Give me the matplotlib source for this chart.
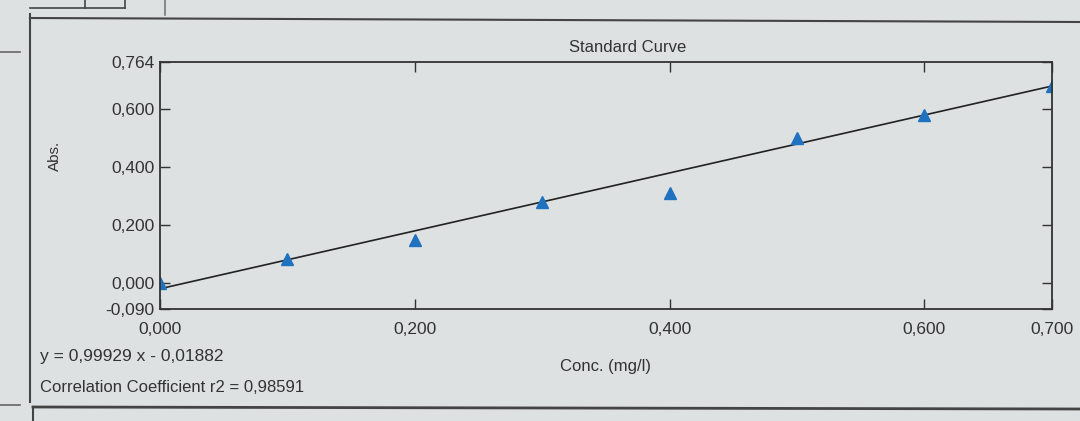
import numpy as np
import matplotlib.pyplot as plt
from matplotlib.lines import Line2D

# standard points
conc = [0.0, 0.1, 0.2, 0.3, 0.4, 0.5, 0.6, 0.7]
absorb = [0.0, 0.083, 0.15, 0.28, 0.31, 0.50, 0.58, 0.68]

# fit shown on the screen
slope = 0.99929
intercept = -0.01882
r2 = 0.98591

xticks = [0.0, 0.2, 0.4, 0.6, 0.7]
xticklabels = ['0,000', '0,200', '0,400', '0,600', '0,700']
yticks = [0.764, 0.6, 0.4, 0.2, 0.0, -0.09]
yticklabels = ['0,764', '0,600', '0,400', '0,200', '0,000', '-0,090']

plt.rcParams['font.family'] = ['Liberation Sans', 'DejaVu Sans']

bg = '#dde1e1'
fig = plt.figure(figsize=(10.8, 4.21), dpi=100, facecolor=bg)
ax = fig.add_axes([0.148, 0.265, 0.826, 0.588])
ax.set_facecolor(bg)

# fitted line
xs = np.array([0.0, 0.7])
ax.plot(xs, slope * xs + intercept, color='#222222', lw=1.2)
ax.plot(conc, absorb, linestyle='none', marker='^', markersize=8,
        color='#1f72c0')

ax.set_xlim(0, 0.7)
ax.set_ylim(-0.09, 0.764)
ax.set_xticks(xticks)
ax.set_xticklabels(xticklabels)
ax.set_yticks(yticks)
ax.set_yticklabels(yticklabels)
ax.tick_params(direction='in', top=True, right=True, length=7,
               width=1.0, color='#333333', labelsize=12.5,
               labelcolor='#333333', pad=4)
ax.tick_params(axis='x', pad=9)
for s in ax.spines.values():
    s.set_color('#333333')
    s.set_linewidth(1.3)

ax.set_xlabel('Conc. (mg/l)', fontsize=12, color='#333333')
ax.xaxis.set_label_coords(0.5, -0.2)
ax.set_ylabel('Abs.', fontsize=11, color='#333333')
ax.yaxis.set_label_coords(-0.11, 0.62)

fig.text(628 / 1080, 1 - 48 / 421, 'Standard Curve', ha='center',
         va='center', fontsize=12, color='#333333')
fig.text(40 / 1080, 1 - 357 / 421, 'y = 0,99929 x - 0,01882',
         fontsize=12.5, color='#333333', va='center')
fig.text(40 / 1080, 1 - 388 / 421,
         'Correlation Coefficient r2 = {}'.format(str(r2).replace('.', ',')),
         fontsize=12, color='#333333', va='center')

# screen panel borders
def fline(x0, y0, x1, y1, lw=1.5, c='#444444'):
    fig.add_artist(Line2D([x0 / 1080, x1 / 1080], [1 - y0 / 421, 1 - y1 / 421],
                          color=c, lw=lw))

fline(30, 14, 30, 402)
fline(30, 18, 1080, 22)
fline(33, 407, 1080, 409, lw=2)
fline(33, 407, 33, 421)
fline(0, 52, 20, 52, lw=1.2, c='#666666')
fline(0, 405, 20, 405, lw=1.2, c='#666666')
fline(165, 0, 165, 15, lw=1.2, c='#777777')
fline(30, 8, 125, 8, lw=1.2)
fline(85, 0, 85, 8, lw=1.2)
fline(125, 0, 125, 8, lw=1.2)

plt.savefig('out.png', dpi=100, facecolor=bg)
